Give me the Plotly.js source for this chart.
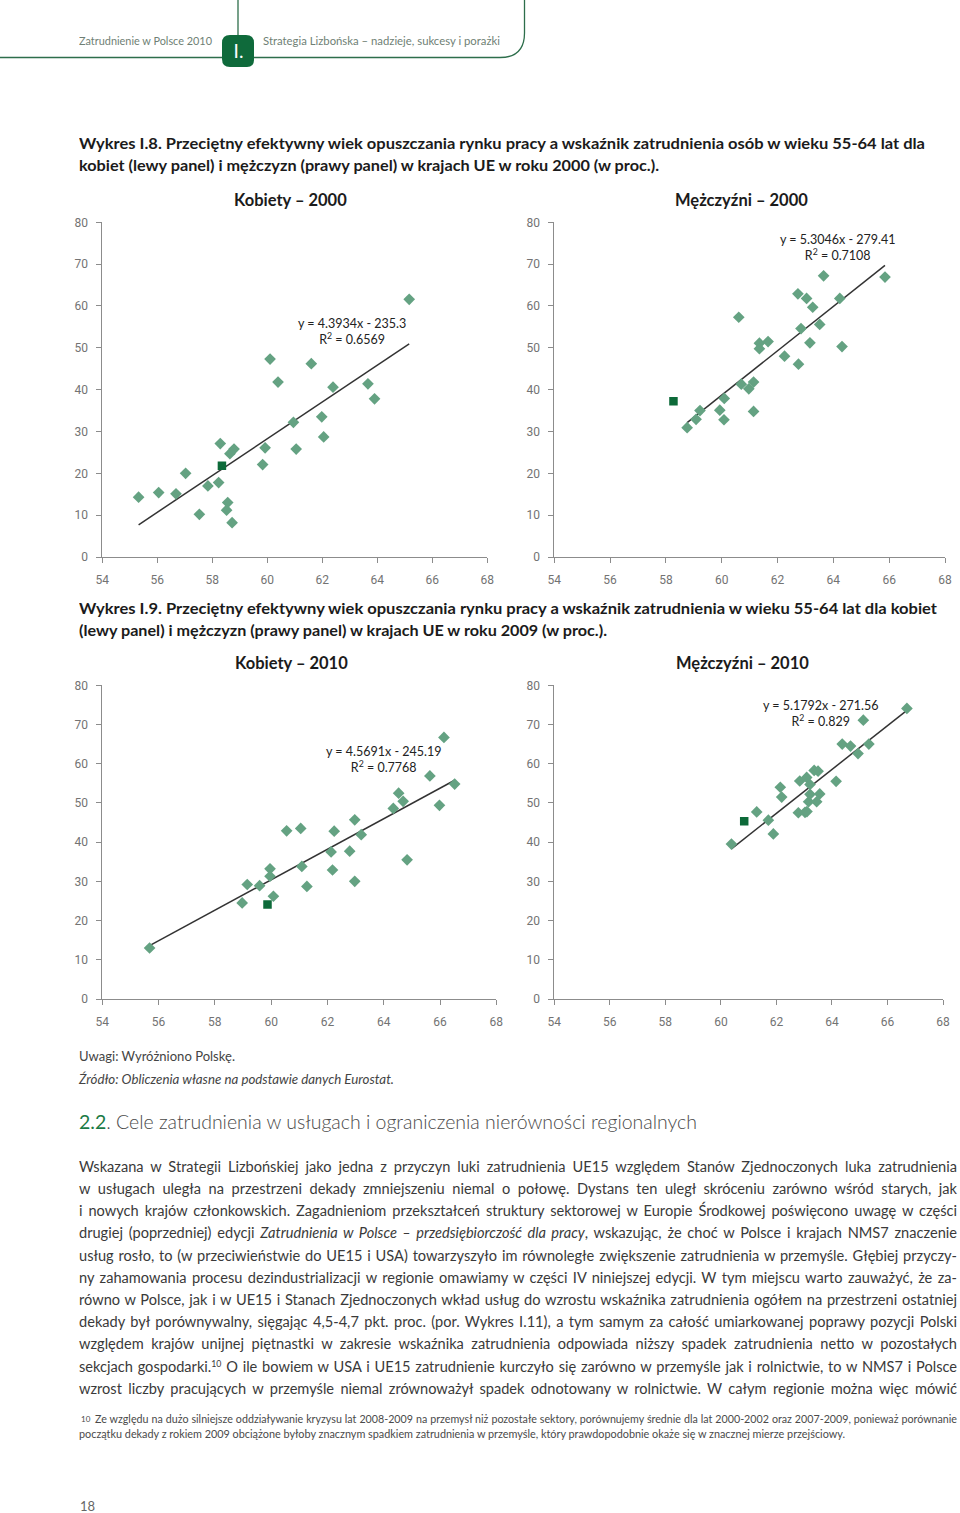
<!DOCTYPE html>
<html><head><meta charset="utf-8">
<script src="https://cdn.plot.ly/plotly-3.0.1.min.js"></script>
<style>
html,body{margin:0;padding:0;background:#fff;}
body{width:960px;height:1513px;position:relative;overflow:hidden;font-family:Lato,'Noto Sans',sans-serif;color:#3a3a3a;}
#chart{position:absolute;left:0;top:0;width:960px;height:1513px;}
.t{position:absolute;white-space:nowrap;transform-origin:0 50%;line-height:20px;}
.j{position:absolute;left:79px;width:878px;text-align:justify;text-align-last:justify;font-size:14.6px;color:#3a3a3a;line-height:20px;height:20px;}
.j sup, .t sup{font-size:0.6em;line-height:0;vertical-align:0.6em;}
.ft{font-size:11px;color:#4a4a4a;}
</style></head><body>
<div id="chart"></div>

<svg width="960" height="80" style="position:absolute;left:0;top:0">
  <path d="M0,57.5 H500 Q524.5,57.5 524.5,33 V0" stroke="#2d6e4b" fill="none" stroke-width="1.3"/>
  <line x1="238" y1="0" x2="238" y2="36" stroke="#2d6e4b" stroke-width="1.3"/>
  <path d="M230,35 H246 Q254,35 254,43 V60 Q254,67 247,67 H230 Q222,67 222,59 V43 Q222,35 230,35 Z" fill="#0f6a3b"/>
  <text x="238.5" y="58" fill="#ffffff" font-size="19" font-family="Lato, sans-serif" text-anchor="middle">I.</text>
</svg>

<span class="t" data-w="133" style="left:79px;top:31px;font-size:12px;color:#6f7f75;">Zatrudnienie w Polsce 2010</span>
<span class="t" data-w="237" style="left:263px;top:31px;font-size:12px;color:#6f7f75;">Strategia Lizbońska – nadzieje, sukcesy i porażki</span>

<span class="t" data-w="846" style="left:79px;top:133px;font-size:15.5px;font-weight:700;color:#1b1b1b;">Wykres I.8. Przeciętny efektywny wiek opuszczania rynku pracy a wskaźnik zatrudnienia osób w wieku 55-64 lat dla</span>
<span class="t" data-w="580" style="left:79px;top:155px;font-size:15.5px;font-weight:700;color:#1b1b1b;">kobiet (lewy panel) i mężczyzn (prawy panel) w krajach UE w roku 2000 (w proc.).</span>

<span class="t" data-w="858" style="left:79px;top:598px;font-size:15.5px;font-weight:700;color:#1b1b1b;">Wykres I.9. Przeciętny efektywny wiek opuszczania rynku pracy a wskaźnik zatrudnienia w wieku 55-64 lat dla kobiet</span>
<span class="t" data-w="528" style="left:79px;top:620px;font-size:15.5px;font-weight:700;color:#1b1b1b;">(lewy panel) i mężczyzn (prawy panel) w krajach UE w roku 2009 (w proc.).</span>

<span class="t" data-w="156" style="left:79px;top:1046px;font-size:13px;color:#444;">Uwagi: Wyróżniono Polskę.</span>
<span class="t" data-w="315" style="left:79px;top:1069px;font-size:13px;font-style:italic;color:#444;">Źródło: Obliczenia własne na podstawie danych Eurostat.</span>

<span class="t" data-w="618" style="left:79px;top:1111px;font-size:19px;font-weight:300;color:#4a4a4a;line-height:22px;"><span style="color:#1b7a45;font-weight:400;">2.2</span>. Cele zatrudnienia w usługach i ograniczenia nierówności regionalnych</span>

<div class="j" style="top:1157px;">Wskazana w Strategii Lizbońskiej jako jedna z przyczyn luki zatrudnienia UE15 względem Stanów Zjednoczonych luka zatrudnienia</div>
<div class="j" style="top:1179px;">w usługach uległa na przestrzeni dekady zmniejszeniu niemal o połowę. Dystans ten uległ skróceniu zarówno wśród starych, jak</div>
<div class="j" style="top:1201px;">i nowych krajów członkowskich. Zagadnieniom przekształceń struktury sektorowej w Europie Środkowej poświęcono uwagę w części</div>
<div class="j" style="top:1223px;">drugiej (poprzedniej) edycji <i>Zatrudnienia w Polsce – przedsiębiorczość dla pracy</i>, wskazując, że choć w Polsce i krajach NMS7 znaczenie</div>
<div class="j" style="top:1246px;">usług rosło, to (w przeciwieństwie do UE15 i USA) towarzyszyło im równoległe zwiększenie zatrudnienia w przemyśle. Głębiej przyczy-</div>
<div class="j" style="top:1268px;">ny zahamowania procesu dezindustrializacji w regionie omawiamy w części IV niniejszej edycji. W tym miejscu warto zauważyć, że za-</div>
<div class="j" style="top:1290px;">równo w Polsce, jak i w UE15 i Stanach Zjednoczonych wkład usług do wzrostu wskaźnika zatrudnienia ogółem na przestrzeni ostatniej</div>
<div class="j" style="top:1312px;">dekady był porównywalny, sięgając 4,5-4,7 pkt. proc. (por. Wykres I.11), a tym samym za całość umiarkowanej poprawy pozycji Polski</div>
<div class="j" style="top:1334px;">względem krajów unijnej piętnastki w zakresie wskaźnika zatrudnienia odpowiada niższy spadek zatrudnienia netto w pozostałych</div>
<div class="j" style="top:1357px;">sekcjach gospodarki.<sup>10</sup> O ile bowiem w USA i UE15 zatrudnienie kurczyło się zarówno w przemyśle jak i rolnictwie, to w NMS7 i Polsce</div>
<div class="j" style="top:1379px;">wzrost liczby pracujących w przemyśle niemal zrównoważył spadek odnotowany w rolnictwie. W całym regionie można więc mówić</div>

<span class="t ft" style="left:81px;top:1409px;font-size:8px;">10</span>
<div class="j ft" style="left:95px;width:862px;top:1411px;font-size:11px;height:16px;line-height:16px;">Ze względu na dużo silniejsze oddziaływanie kryzysu lat 2008-2009 na przemysł niż pozostałe sektory, porównujemy średnie dla lat 2000-2002 oraz 2007-2009, ponieważ porównanie</div>
<span class="t ft" data-w="766" style="left:79px;top:1426px;line-height:16px;">początku dekady z rokiem 2009 obciążone byłoby znacznym spadkiem zatrudnienia w przemyśle, który prawdopodobnie okaże się w znacznej mierze przejściowy.</span>

<span class="t" style="left:80px;top:1496px;font-size:13px;color:#666;">18</span>

<script>
// ---- Data ----
// Kobiety – 2000
const k2000_age = [55.32,56.05,56.68,57.03,57.53,57.84,58.23,58.29,58.64,58.79,58.56,58.52,58.72,59.83,59.92,60.10,60.39,60.95,61.05,61.60,61.98,62.05,62.39,63.66,63.90,65.16];
const k2000_emp = [14.3,15.4,15.1,20.0,10.2,17.0,17.8,27.1,24.7,25.8,13.0,11.2,8.2,22.1,26.1,47.3,41.8,32.2,25.8,46.2,33.5,28.7,40.6,41.4,37.8,61.6];
const k2000_plAge = [58.35];
const k2000_plEmp = [21.8];
// Mężczyźni – 2000
const m2000_age = [58.76,59.08,59.22,59.93,60.08,60.09,60.61,60.70,60.97,61.14,61.14,61.35,61.35,61.66,62.25,62.73,62.75,62.84,63.04,63.16,63.26,63.51,63.65,64.23,64.31,65.85];
const m2000_emp = [30.9,32.9,35.0,35.1,32.8,37.9,57.3,41.3,40.2,41.8,34.8,51.1,49.8,51.5,48.0,62.9,46.1,54.6,61.8,51.2,59.7,55.6,67.2,61.8,50.3,66.9];
const m2000_plAge = [58.27];
const m2000_plEmp = [37.2];
// Kobiety – 2010
const k2010_age = [55.68,58.97,59.15,59.59,59.96,59.96,60.08,60.55,61.05,61.09,61.27,62.13,62.18,62.24,62.79,62.97,62.97,63.20,64.34,64.53,64.69,64.83,65.64,65.98,66.14,66.52];
const k2010_emp = [13.0,24.5,29.2,28.9,33.2,31.3,26.2,42.9,43.5,33.8,28.7,37.5,32.9,42.8,37.7,45.7,30.0,41.9,48.6,52.5,50.4,35.5,56.9,49.4,66.7,54.8];
const k2010_plAge = [59.87];
const k2010_plEmp = [24.1];
// Mężczyźni – 2010
const m2010_age = [60.38,61.29,61.71,61.89,62.14,62.19,62.79,62.84,63.03,63.09,63.10,63.16,63.21,63.21,63.36,63.50,63.45,63.56,64.15,64.37,64.67,64.94,65.13,65.33,66.70];
const m2010_emp = [39.5,47.7,45.6,42.1,54.0,51.5,47.5,55.6,47.6,56.5,47.8,50.3,52.2,54.7,58.3,58.1,50.3,52.3,55.5,65.0,64.5,62.6,71.1,65.0,74.1];
const m2010_plAge = [60.84];
const m2010_plEmp = [45.3];

const panelTitles = ['Kobiety – 2000','Mężczyźni – 2000','Kobiety – 2010','Mężczyźni – 2010'];
const equations = ['y = 4.3934x - 235.3','y = 5.3046x - 279.41','y = 4.5691x - 245.19','y = 5.1792x - 271.56'];
const r2Values = ['0.6569','0.7108','0.7768','0.829'];
const xTicks = [54,56,58,60,62,64,66,68];
const yTicks = [0,10,20,30,40,50,60,70,80];

// ---- Layout geometry (pixels on the page) ----
const W = 960, H = 1513;
const fx = p => p / W, fy = p => 1 - p / H;
const frames = [
  {x0:102.3, x1:487.3, y0:557, y1:222.3, tx:290, ty:200, ex:351.5, ey:331.5},
  {x0:554.3, x1:945.0, y0:557, y1:222.3, tx:741, ty:200, ex:837,   ey:248},
  {x0:102.3, x1:496.3, y0:999, y1:685.3, tx:291, ty:663, ex:383,   ey:760},
  {x0:554.3, x1:943.0, y0:999, y1:685.3, tx:742, ty:663, ex:820,   ey:713.5}
];
const series = [
  [k2000_age,k2000_emp,k2000_plAge,k2000_plEmp],
  [m2000_age,m2000_emp,m2000_plAge,m2000_plEmp],
  [k2010_age,k2010_emp,k2010_plAge,k2010_plEmp],
  [m2010_age,m2010_emp,m2010_plAge,m2010_plEmp]
];

function ols(x, y) {
  const n = x.length;
  const mx = x.reduce((a,b)=>a+b,0)/n, my = y.reduce((a,b)=>a+b,0)/n;
  let sxy=0, sxx=0;
  for (let i=0;i<n;i++){ sxy += (x[i]-mx)*(y[i]-my); sxx += (x[i]-mx)*(x[i]-mx); }
  const b = sxy/sxx; return {b:b, a:my-b*mx};
}

const tickFont = {family:"'Liberation Sans Narrow', 'Roboto', sans-serif", size:12, color:'#737373'};
const axisBase = {showgrid:false, zeroline:false, showline:true, linecolor:'#8c8c8c', linewidth:1,
  ticks:'outside', ticklen:5, tickwidth:1, tickcolor:'#8c8c8c', tickfont:tickFont, fixedrange:true};

const traces = [], layout = {
  width:W, height:H, margin:{l:0,r:0,t:0,b:0}, showlegend:false,
  paper_bgcolor:'rgba(0,0,0,0)', plot_bgcolor:'rgba(0,0,0,0)', annotations:[]
};

series.forEach((s, i) => {
  const f = frames[i], k = i === 0 ? '' : String(i+1);
  const [ax, ay, pAx, pAy] = s;
  const fit = ols(ax, ay);
  const xmin = Math.min(...ax), xmax = Math.max(...ax);
  traces.push({x:[xmin,xmax], y:[fit.a+fit.b*xmin, fit.a+fit.b*xmax], mode:'lines', type:'scatter',
    xaxis:'x'+k, yaxis:'y'+k, line:{color:'#333333', width:1.5}, hoverinfo:'skip'});
  traces.push({x:ax, y:ay, mode:'markers', type:'scatter', xaxis:'x'+k, yaxis:'y'+k,
    marker:{symbol:'diamond', size:9, color:'#64a282'}});
  traces.push({x:pAx, y:pAy, mode:'markers', type:'scatter', xaxis:'x'+k, yaxis:'y'+k,
    marker:{symbol:'square', size:8.5, color:'#0d6a39'}});
  layout['xaxis'+k] = Object.assign({}, axisBase, {domain:[fx(f.x0), fx(f.x1)], range:[54,68],
    tickvals:xTicks, anchor:'y'+k, ticklabelstandoff:7});
  layout['yaxis'+k] = Object.assign({}, axisBase, {domain:[fy(f.y0), fy(f.y1)], range:[0,80],
    tickvals:yTicks, anchor:'x'+k, ticklabelstandoff:6});
  layout.annotations.push({xref:'paper', yref:'paper', x:fx(f.tx), y:fy(f.ty), xanchor:'center', yanchor:'middle',
    showarrow:false, text:'<b>'+panelTitles[i]+'</b>', font:{family:'Lato, sans-serif', size:16.5, color:'#1b1b1b'}});
  layout.annotations.push({xref:'paper', yref:'paper', x:fx(f.ex), y:fy(f.ey), xanchor:'center', yanchor:'middle',
    showarrow:false, align:'center', text:equations[i]+'<br>R<sup>2</sup> = '+r2Values[i],
    font:{family:'Lato, sans-serif', size:12.5, color:'#222'}});
});

Plotly.newPlot('chart', traces, layout, {staticPlot:true, displayModeBar:false});

// ---- text fitting ----
function fitAll(){
  document.querySelectorAll('.t[data-w]').forEach(el => {
    el.style.transform = 'none';
    const w = el.getBoundingClientRect().width;
    const target = parseFloat(el.getAttribute('data-w'));
    if (w > 0) el.style.transform = 'scaleX(' + (target / w) + ')';
  });
  document.querySelectorAll('.j').forEach(el => {
    let fs = parseFloat(getComputedStyle(el).fontSize);
    const lh = parseFloat(getComputedStyle(el).lineHeight);
    el.style.height = 'auto';
    let guard = 0;
    while (el.scrollHeight > lh * 1.4 && guard < 60) { fs -= 0.1; el.style.fontSize = fs + 'px'; guard++; }
    el.style.height = lh + 'px';
  });
}
if (document.fonts && document.fonts.ready) document.fonts.ready.then(fitAll); else fitAll();
fitAll();
</script>
</body></html>
